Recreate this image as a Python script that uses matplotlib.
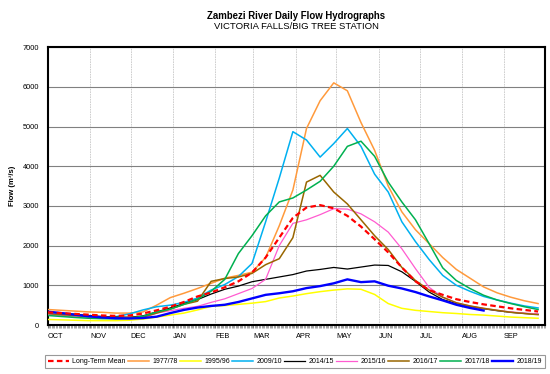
import numpy as np
import matplotlib
matplotlib.use('Agg')
import matplotlib.pyplot as plt
from matplotlib.ticker import MultipleLocator

plt.rcParams['font.family'] = ['Liberation Sans', 'DejaVu Sans']

nan = np.nan

#------------------------data--------------------------
# day of hydrological year (1 Oct = 0), one reading every 10 days
DAYS = np.arange(0, 361, 10)

MONTH_START = [0, 31, 61, 92, 123, 151, 182, 212, 243, 273, 304, 335]
MONTHS = ['OCT', 'NOV', 'DEC', 'JAN', 'FEB', 'MAR',
          'APR', 'MAY', 'JUN', 'JUL', 'AUG', 'SEP']

mean_flow = [320, 300, 280, 260, 240, 230, 240, 290, 370, 460, 580, 720, 820,
             950, 1100, 1320, 1700, 2200, 2700, 2960, 3020, 2940, 2750, 2480,
             2160, 1830, 1450, 1100, 880, 760, 650, 580, 520, 470, 420, 380, 340]

flow_1977 = [390, 370, 350, 330, 320, 300, 300, 330, 500, 690, 800, 920, 1050,
             1180, 1250, 1330, 1700, 2500, 3400, 4950, 5650, 6100, 5900, 5100,
             4400, 3500, 2850, 2400, 2050, 1700, 1400, 1180, 960, 810, 700, 610, 540]

flow_1995 = [140, 130, 120, 110, 110, 110, 120, 150, 200, 250, 300, 380, 470,
             490, 520, 550, 590, 680, 730, 790, 840, 880, 910, 900, 770, 540,
             420, 370, 340, 310, 290, 265, 250, 225, 200, 185, 170]

flow_2009 = [270, 240, 210, 190, 185, 210, 280, 380, 460, 500, 570, 680, 880,
             1020, 1220, 1550, 2600, 3700, 4870, 4660, 4230, 4570, 4950, 4500,
             3800, 3350, 2600, 2100, 1650, 1250, 1000, 850, 720, 630, 550, 480, 430]

flow_2014 = [330, 300, 270, 240, 215, 200, 195, 230, 330, 430, 540, 640, 780,
             900, 980, 1090, 1150, 1210, 1270, 1360, 1400, 1450, 1410, 1460,
             1510, 1500, 1340, 1100, 830, 640, 540, 470, 410, 360, 320, 290, 270]

flow_2015 = [260, 240, 220, 200, 185, 175, 170, 180, 300, 360, 420, 470, 570,
             660, 790, 920, 1150, 2000, 2560, 2650, 2780, 2930, 2920, 2800,
             2600, 2340, 1920, 1420, 950, 700, 560, 480, 420, 370, 330, 300, 280]

flow_2016 = [290, 260, 240, 215, 200, 190, 190, 200, 300, 400, 520, 600, 1100,
             1170, 1210, 1300, 1520, 1670, 2200, 3600, 3770, 3350, 3050, 2650,
             2250, 1900, 1450, 1120, 880, 700, 560, 480, 420, 370, 320, 290, 260]

flow_2017 = [240, 215, 190, 170, 160, 155, 165, 220, 330, 400, 520, 650, 850,
             1150, 1800, 2250, 2750, 3100, 3200, 3400, 3620, 4000, 4500, 4630,
             4250, 3600, 3100, 2650, 2050, 1440, 1120, 920, 750, 630, 540, 460, 390]

flow_2018 = [335, 300, 260, 220, 190, 170, 165, 175, 210, 300, 380, 440, 480,
             510, 580, 670, 760, 800, 850, 930, 980, 1050, 1150, 1080, 1100,
             990, 920, 830, 720, 620, 510, 430, 365, nan, nan, nan, nan]

series = [
    ('Long-Term Mean', mean_flow, '#FF0000', 1.6, (0, (2.5, 1.5))),
    ('1977/78', flow_1977, '#FF9A3C', 1.1, '-'),
    ('1995/96', flow_1995, '#FFFF00', 1.1, '-'),
    ('2009/10', flow_2009, '#00B0F0', 1.1, '-'),
    ('2014/15', flow_2014, '#000000', 0.9, '-'),
    ('2015/16', flow_2015, '#FF5BD0', 0.9, '-'),
    ('2016/17', flow_2016, '#996600', 1.1, '-'),
    ('2017/18', flow_2017, '#00B050', 1.1, '-'),
    ('2018/19', flow_2018, '#0000FF', 1.7, '-'),
]

#------------------------wykres--------------------------
fig = plt.figure(figsize=(5.5, 3.74), dpi=100)
ax = fig.add_axes([0.0867, 0.131, 0.904, 0.743])

for label, vals, color, lw, ls in series:
    z = 5 if label == 'Long-Term Mean' else 3
    ax.plot(DAYS, vals, color=color, lw=lw, ls=ls, label=label, zorder=z)

ax.set_xlim(0, 365)
ax.set_ylim(0, 7000)
ax.set_yticks(range(0, 7001, 1000))
ax.set_xticks(MONTH_START)
ax.set_xticklabels(MONTHS, ha='left')
ax.xaxis.set_minor_locator(MultipleLocator(1))

ax.yaxis.grid(True, color='#808080', lw=0.8, zorder=0)
ax.xaxis.grid(True, color='#c8c8c8', lw=0.6, ls=(0, (2, 1)), zorder=0)
ax.set_axisbelow(True)

ax.tick_params(axis='y', length=0, pad=6, labelsize=5.3)
ax.tick_params(axis='x', which='major', length=2, width=0.5, pad=4,
               labelsize=5.3, color='#404040')
ax.tick_params(axis='x', which='minor', length=2, width=0.4, color='#606060')
for s in ax.spines.values():
    s.set_linewidth(1.5)

fig.text(296 / 550, 0.957, 'Zambezi River Daily Flow Hydrographs',
         ha='center', va='center', fontsize=6.9, fontweight='bold')
fig.text(296 / 550, 0.929, 'VICTORIA FALLS/BIG TREE STATION',
         ha='center', va='center', fontsize=6.8)
fig.text(13 / 550, 0.503, 'Flow (m³/s)', rotation=90, ha='center',
         va='center', fontsize=5.5, fontweight='bold')

handles, labels = ax.get_legend_handles_labels()
leg = fig.legend(handles, labels, loc='lower left',
                 bbox_to_anchor=(45 / 550, 1 - 368 / 374, 500 / 550, 14 / 374),
                 mode='expand', ncol=9, fontsize=5, handlelength=3,
                 handletextpad=0.5, borderaxespad=0, borderpad=0.4,
                 frameon=True, fancybox=False, edgecolor='#808080')
leg.get_frame().set_linewidth(0.8)

fig.savefig('out.png', dpi=100)
